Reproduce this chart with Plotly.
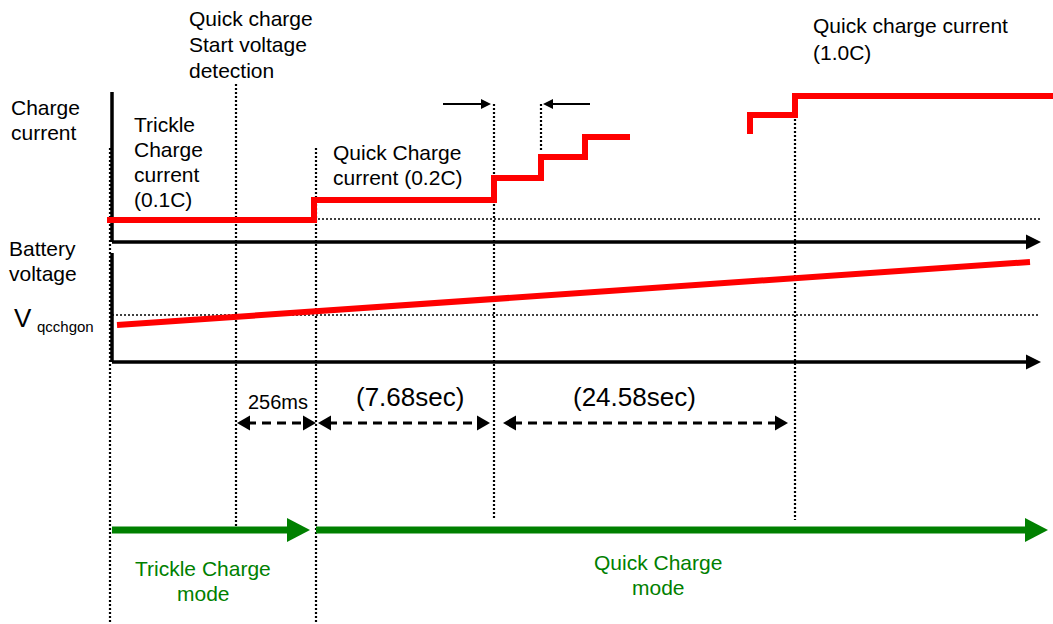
import plotly.graph_objects as go

W, H = 1053, 624
FONT = "Liberation Sans, Arial, sans-serif"
RED = "#ff0000"
GREEN = "#008000"
BLACK = "#000000"

# ---- data (diagram units: x = time position, y = screen level, top = 0) ----
current_x = [107, 314, 494, 541, 585, 630]
current_y = [220, 200, 178, 157, 137, 137]
current2_x = [750, 750, 795, 1053]
current2_y = [134, 115, 96, 96]
voltage_x = [117, 1030]
voltage_y = [325, 262]

event_x = [110, 236, 316, 494, 541, 795]
event_top = [148, 84, 148, 104, 104, 115]
event_bottom = [624, 528, 624, 520, 151, 520]

ref_levels = [219, 315]
ref_start = [110, 112]
ref_end = [1040, 1040]

axis_y = [242, 362]
axis_top = [92, 253]
axis_x0 = 112
axis_tip = 1041

marker_arrow_y = 104
marker_arrow_tail = [443, 590]
marker_arrow_tip = [491, 543]

interval_labels = ["256ms", "(7.68sec)", "(24.58sec)"]
interval_start = [237, 318, 503]
interval_end = [316, 490, 788]
interval_font = [20, 26, 26]
interval_label_x = [278, 410, 634]
interval_label_y = [402, 397, 397]
interval_y = 423

mode_labels = [["Trickle Charge", "mode"], ["Quick Charge", "mode"]]
mode_start = [112, 316]
mode_end = [310, 1048]
mode_label_x = [203, 658]
mode_label_y = [568, 562]
mode_y = 530

fig = go.Figure()


def line(xs, ys, color, width, dash="solid", shape="linear"):
    fig.add_trace(go.Scatter(x=xs, y=ys, mode="lines", hoverinfo="skip",
                             line=dict(color=color, width=width, dash=dash, shape=shape)))


def head(tip_x, tip_y, direction, length, half, color):
    bx = tip_x - direction * length
    fig.add_trace(go.Scatter(x=[tip_x, bx, bx, tip_x], y=[tip_y, tip_y - half, tip_y + half, tip_y],
                             mode="lines", fill="toself", fillcolor=color,
                             line=dict(color=color, width=0), hoverinfo="skip"))


# dotted event lines
xs, ys = [], []
for x, t, b in zip(event_x, event_top, event_bottom):
    xs += [x, x, None]
    ys += [t, b, None]
line(xs, ys, BLACK, 2.2, dash="2px,2px")

# dotted reference levels
xs, ys = [], []
for yv, s, e in zip(ref_levels, ref_start, ref_end):
    xs += [s, e, None]
    ys += [yv, yv, None]
line(xs, ys, BLACK, 1.6, dash="2px,2px")

# axes
for ay, at in zip(axis_y, axis_top):
    line([axis_x0, axis_x0], [at, ay], BLACK, 3.5)
    line([axis_x0, axis_tip - 13], [ay, ay], BLACK, 3.5)
    head(axis_tip, ay, 1, 15, 7.5, BLACK)

# small marker arrows at the top
for tail, tip in zip(marker_arrow_tail, marker_arrow_tip):
    d = 1 if tip > tail else -1
    line([tail, tip - d * 8], [marker_arrow_y, marker_arrow_y], BLACK, 2)
    head(tip, marker_arrow_y, d, 10, 5, BLACK)

# red traces
line(current_x, current_y, RED, 6, shape="hv")
line(current2_x, current2_y, RED, 6, shape="hv")
line(voltage_x, voltage_y, RED, 6)

# interval dashed double arrows
for s, e in zip(interval_start, interval_end):
    line([s + 10, e - 10], [interval_y, interval_y], BLACK, 3, dash="9px,6px")
    head(s, interval_y, -1, 13, 7.5, BLACK)
    head(e, interval_y, 1, 13, 7.5, BLACK)

# mode arrows
for s, e in zip(mode_start, mode_end):
    line([s, e - 20], [mode_y, mode_y], GREEN, 7)
    head(e, mode_y, 1, 23, 12, GREEN)

ann = []


def text(x, y, t, size=21, color=BLACK, xanchor="left"):
    ann.append(dict(x=x, y=y, xref="x", yref="y", text=t, showarrow=False,
                    xanchor=xanchor, yanchor="middle",
                    font=dict(family=FONT, size=size, color=color)))


def block(x, y0, lines, step, size=21, color=BLACK, xanchor="left"):
    for i, t in enumerate(lines):
        text(x, y0 + i * step, t, size=size, color=color, xanchor=xanchor)


block(9, 107, ["Charge", "current"], 25)
block(7, 248, ["Battery", "voltage"], 25)
text(12, 318, "V", size=26)
text(35, 326, "qcchgon", size=15)
block(187, 18, ["Quick charge", "Start voltage", "detection"], 26)
block(132, 124, ["Trickle", "Charge", "current", "(0.1C)"], 25.3)
block(331, 152, ["Quick Charge", "current (0.2C)"], 25)
block(811, 25, ["Quick charge current", "(1.0C)"], 27)

for lab, lx, ly, fs in zip(interval_labels, interval_label_x, interval_label_y, interval_font):
    text(lx, ly, lab, size=fs, xanchor="center")

for lab, lx, ly in zip(mode_labels, mode_label_x, mode_label_y):
    block(lx, ly, lab, 25, color=GREEN, xanchor="center")

fig.update_layout(
    width=W, height=H, margin=dict(l=0, r=0, t=0, b=0),
    paper_bgcolor="white", plot_bgcolor="white", showlegend=False,
    xaxis=dict(range=[0, W], visible=False, fixedrange=True),
    yaxis=dict(range=[H, 0], visible=False, fixedrange=True),
    annotations=ann,
)
fig.write_html("out.html", config={"displayModeBar": False},
               post_script="document.body.style.margin='0';document.body.style.overflow='hidden';")
